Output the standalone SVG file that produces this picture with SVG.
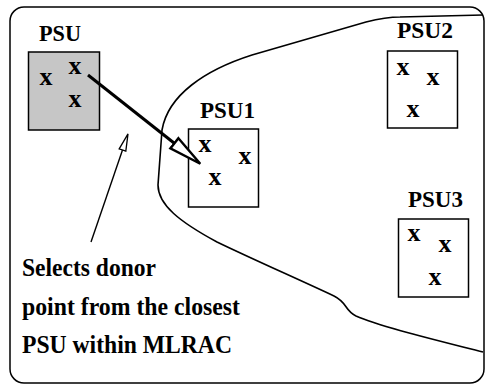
<svg xmlns="http://www.w3.org/2000/svg" width="485" height="385" viewBox="0 0 485 385">
  <style>
    .frame { fill: #ffffff; stroke: #000000; stroke-width: 1.5; }
    .region { fill: none; stroke: #000000; stroke-width: 1.6; }
    .box { fill: #ffffff; stroke: #000000; stroke-width: 1.5; }
    .shaded { fill: #c6c6c6; stroke: #000000; stroke-width: 1.5; }
    .lbl { font-family: "Liberation Serif", "Times New Roman", serif; font-weight: bold; font-size: 23px; fill: #000000; }
    .pt { font-family: "Liberation Serif", "Times New Roman", serif; font-weight: bold; font-size: 26px; fill: #000000; text-anchor: middle; }
    .cap { font-family: "Liberation Serif", "Times New Roman", serif; font-weight: bold; font-size: 25px; fill: #000000; }
    .thick { stroke: #000000; stroke-width: 3; fill: none; }
    .thin { stroke: #000000; stroke-width: 1.4; fill: none; }
  </style>
  <defs>
    <marker id="bigHead" viewBox="0 0 36 16" refX="1" refY="8" markerWidth="36" markerHeight="16" markerUnits="userSpaceOnUse" orient="auto">
      <path d="M1.5,1.5 L34.5,8 L1.5,14.5 Z" fill="#ffffff" stroke="#000000" stroke-width="2.4"/>
    </marker>
    <marker id="smallHead" viewBox="0 0 19 9" refX="1" refY="4.5" markerWidth="19" markerHeight="9" markerUnits="userSpaceOnUse" orient="auto">
      <path d="M1,1 L18,4.5 L1,8 Z" fill="#ffffff" stroke="#000000" stroke-width="1.3"/>
    </marker>
  </defs>

  <rect class="frame" x="10" y="7" width="474" height="376" rx="14" ry="14"/>

  <path id="mlrac" class="region" d="M483,15 L400,17 C388,17 378,19 366,22 L252,55 C205,70 168,95 162,130 L158,185 C158,205 180,222 217,242 C250,258 300,280 334,296 C348,303 344,310 356,316 C376,325 420,336 483,352"/>

  <g id="psu">
    <rect class="shaded" x="28.5" y="52" width="71" height="78"/>
    <text class="lbl" x="39" y="41" textLength="42" lengthAdjust="spacingAndGlyphs">PSU</text>
    <text class="pt" x="46" y="85">x</text>
    <text class="pt" x="75" y="74">x</text>
    <text class="pt" x="75" y="107">x</text>
  </g>

  <g id="psu1">
    <rect class="box" x="188.5" y="129" width="70" height="78"/>
    <text class="lbl" x="200" y="118" textLength="55" lengthAdjust="spacingAndGlyphs">PSU1</text>
    <text class="pt" x="205" y="152">x</text>
    <text class="pt" x="245" y="164">x</text>
    <text class="pt" x="215" y="185">x</text>
  </g>

  <g id="psu2">
    <rect class="box" x="387.5" y="51" width="70" height="77"/>
    <text class="lbl" x="397" y="38" textLength="56" lengthAdjust="spacingAndGlyphs">PSU2</text>
    <text class="pt" x="403" y="75">x</text>
    <text class="pt" x="433" y="85">x</text>
    <text class="pt" x="413" y="117">x</text>
  </g>

  <g id="psu3">
    <rect class="box" x="398.5" y="219" width="70" height="78"/>
    <text class="lbl" x="408" y="207" textLength="55" lengthAdjust="spacingAndGlyphs">PSU3</text>
    <text class="pt" x="414" y="241">x</text>
    <text class="pt" x="445" y="252">x</text>
    <text class="pt" x="435" y="285">x</text>
  </g>

  <g id="note">
    <text class="cap" x="22" y="276" textLength="134" lengthAdjust="spacingAndGlyphs">Selects donor</text>
    <text class="cap" x="22" y="315" textLength="218" lengthAdjust="spacingAndGlyphs">point from the closest</text>
    <text class="cap" x="22" y="353" textLength="210" lengthAdjust="spacingAndGlyphs">PSU within MLRAC</text>
  </g>

  <g id="connectors">
    <line class="thick" x1="88" y1="75" x2="174" y2="143" marker-end="url(#bigHead)"/>
    <line class="thin" x1="91" y1="242" x2="122.5" y2="150" marker-end="url(#smallHead)"/>
  </g>
</svg>
